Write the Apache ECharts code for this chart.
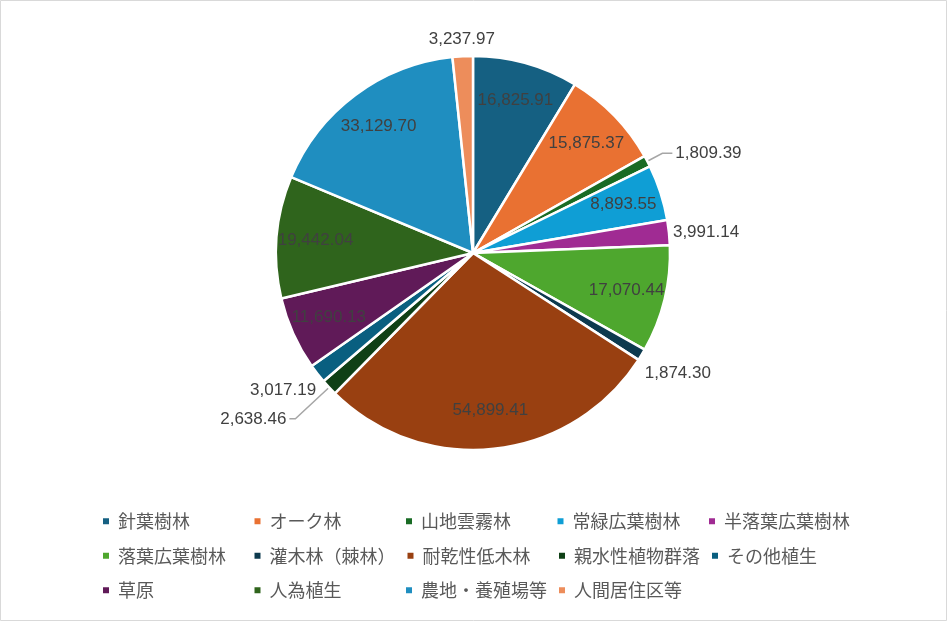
<!DOCTYPE html>
<html>
<head>
<meta charset="utf-8">
<script src="https://cdn.jsdelivr.net/npm/echarts@6/dist/echarts.min.js"></script>
<style>
html,body{margin:0;padding:0;background:#fff;}
#c{width:947px;height:621px;}
</style>
</head>
<body>
<div id="c"></div>
<script>
// ---- data ----
const categories = ['針葉樹林','オーク林','山地雲霧林','常緑広葉樹林','半落葉広葉樹林',
  '落葉広葉樹林','灌木林（棘林）','耐乾性低木林','親水性植物群落','その他植生',
  '草原','人為植生','農地・養殖場等','人間居住区等'];
const values = [16825.91, 15875.37, 1809.39, 8893.55, 3991.14,
  17070.44, 1874.30, 54899.41, 2638.46, 3017.19,
  11690.13, 19442.04, 33129.70, 3237.97];

// ---- styling ----
const colors = ['#156082','#E97132','#196B24','#0F9ED5','#A02B93','#4EA72E',
  '#0D3A4E','#994011','#0F4016','#095F80','#601A58','#2F641C','#1F8EC0','#ED8D5B'];
// label placement per slice index (outside labels); others are drawn inside
const outsideLabel = {
  2:  {length: 17, length2: 10, line: true, gap: 3},
  4:  {length: 4,  length2: 0},
  6:  {length: 6,  length2: 0, shift: [-2, 15]},
  8:  {length: 46, length2: 6, line: true, gap: 3},
  9:  {length: 4,  length2: 0, shift: [2, 14]},
  13: {length: 17, length2: 0, center: true}
};

const fmt = v => v.toLocaleString('en-US', {minimumFractionDigits: 2, maximumFractionDigits: 2});
const numFont = {fontFamily: 'Liberation Sans', fontSize: 17, color: '#404040'};
const CENTER = [473, 253];
const R = 197;

const mainData = categories.map((name, i) => {
  const o = outsideLabel[i];
  const item = {name, value: values[i]};
  if (o) {
    item.label = {show: true, position: 'outside', distanceToLabelLine: o.gap || 0};
    item.labelLine = {show: !!o.line, length: o.length, length2: o.length2};
  } else {
    item.label = {show: false};
    item.labelLine = {show: false};
  }
  return item;
});
const ringData = categories.map((name, i) => ({
  name, value: values[i],
  label: {show: !outsideLabel[i]}
}));

function layoutFor(p) {
  const o = outsideLabel[p.dataIndex];
  if (!o) return {};
  const r = {};
  if (o.center) r.align = 'center';
  if (o.shift) { r.dx = o.shift[0]; r.dy = o.shift[1]; }
  return r;
}

const chart = echarts.init(document.getElementById('c'), null, {renderer: 'canvas'});
chart.setOption({
  animation: false,
  color: colors,
  graphic: [{
    type: 'rect', silent: true, z: -10,
    shape: {x: 0.5, y: 0.5, width: 946, height: 620},
    style: {fill: '#fff', stroke: '#d9d9d9', lineWidth: 1}
  }],
  legend: {
    data: categories,
    left: 96, top: 504, width: 770,
    orient: 'horizontal',
    icon: 'rect', itemWidth: 8, itemHeight: 8,
    itemGap: 10,
    textStyle: {
      fontFamily: 'Noto Sans CJK JP', fontSize: 18, color: '#595959',
      width: 124.5, lineHeight: 24.5, padding: [0, 0, 0, 3]
    },
    selectedMode: false
  },
  series: [
    {
      type: 'pie',
      center: CENTER,
      radius: R,
      startAngle: 90,
      clockwise: true,
      avoidLabelOverlap: false,
      itemStyle: {borderColor: '#fff', borderWidth: 2.5},
      label: Object.assign({formatter: p => fmt(p.value)}, numFont),
      labelLine: {lineStyle: {color: '#A6A6A6', width: 1.5}, smooth: false},
      emphasis: {disabled: true},
      labelLayout: layoutFor,
      data: mainData
    },
    {
      type: 'pie',
      center: CENTER,
      radius: [113, R],
      startAngle: 90,
      clockwise: true,
      silent: true,
      avoidLabelOverlap: false,
      legendHoverLink: false,
      itemStyle: {color: 'rgba(0,0,0,0)', borderWidth: 0},
      label: Object.assign({position: 'inside', formatter: p => fmt(p.value)}, numFont),
      labelLine: {show: false},
      emphasis: {disabled: true},
      data: ringData
    }
  ]
});
</script>
</body>
</html>
